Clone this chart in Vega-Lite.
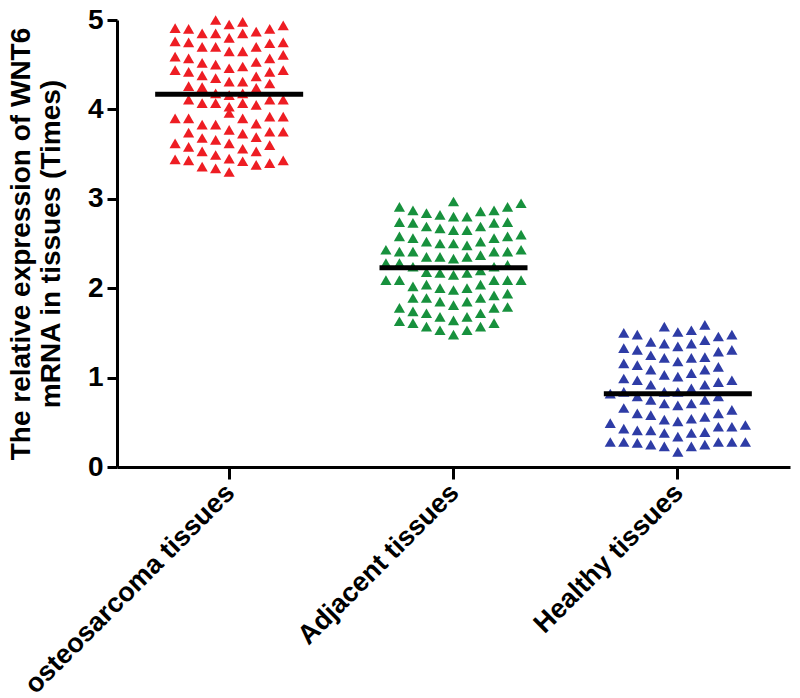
{
  "$schema": "https://vega.github.io/schema/vega-lite/v6.json",
  "width": 673,
  "height": 447,
  "autosize": {"type": "none"},
  "padding": {"left": 117, "top": 20, "right": 10, "bottom": 231},
  "config": {"view": {"stroke": null}, "font": "Liberation Sans"},
  "datasets": {
    "points": [
      {"group": "osteosarcoma tissues", "col": -4, "value": 4.91},
      {"group": "osteosarcoma tissues", "col": -4, "value": 4.76},
      {"group": "osteosarcoma tissues", "col": -4, "value": 4.59},
      {"group": "osteosarcoma tissues", "col": -4, "value": 4.44},
      {"group": "osteosarcoma tissues", "col": -4, "value": 3.90},
      {"group": "osteosarcoma tissues", "col": -4, "value": 3.62},
      {"group": "osteosarcoma tissues", "col": -4, "value": 3.44},
      {"group": "osteosarcoma tissues", "col": -3, "value": 4.90},
      {"group": "osteosarcoma tissues", "col": -3, "value": 4.75},
      {"group": "osteosarcoma tissues", "col": -3, "value": 4.57},
      {"group": "osteosarcoma tissues", "col": -3, "value": 4.42},
      {"group": "osteosarcoma tissues", "col": -3, "value": 4.26},
      {"group": "osteosarcoma tissues", "col": -3, "value": 4.11},
      {"group": "osteosarcoma tissues", "col": -3, "value": 3.90},
      {"group": "osteosarcoma tissues", "col": -3, "value": 3.74},
      {"group": "osteosarcoma tissues", "col": -3, "value": 3.58},
      {"group": "osteosarcoma tissues", "col": -3, "value": 3.43},
      {"group": "osteosarcoma tissues", "col": -2, "value": 4.85},
      {"group": "osteosarcoma tissues", "col": -2, "value": 4.70},
      {"group": "osteosarcoma tissues", "col": -2, "value": 4.52},
      {"group": "osteosarcoma tissues", "col": -2, "value": 4.38},
      {"group": "osteosarcoma tissues", "col": -2, "value": 4.25},
      {"group": "osteosarcoma tissues", "col": -2, "value": 4.07},
      {"group": "osteosarcoma tissues", "col": -2, "value": 3.83},
      {"group": "osteosarcoma tissues", "col": -2, "value": 3.68},
      {"group": "osteosarcoma tissues", "col": -2, "value": 3.53},
      {"group": "osteosarcoma tissues", "col": -2, "value": 3.36},
      {"group": "osteosarcoma tissues", "col": -1, "value": 5.00},
      {"group": "osteosarcoma tissues", "col": -1, "value": 4.85},
      {"group": "osteosarcoma tissues", "col": -1, "value": 4.70},
      {"group": "osteosarcoma tissues", "col": -1, "value": 4.50},
      {"group": "osteosarcoma tissues", "col": -1, "value": 4.35},
      {"group": "osteosarcoma tissues", "col": -1, "value": 4.18},
      {"group": "osteosarcoma tissues", "col": -1, "value": 4.07},
      {"group": "osteosarcoma tissues", "col": -1, "value": 3.83},
      {"group": "osteosarcoma tissues", "col": -1, "value": 3.66},
      {"group": "osteosarcoma tissues", "col": -1, "value": 3.49},
      {"group": "osteosarcoma tissues", "col": -1, "value": 3.34},
      {"group": "osteosarcoma tissues", "col": 0, "value": 4.95},
      {"group": "osteosarcoma tissues", "col": 0, "value": 4.80},
      {"group": "osteosarcoma tissues", "col": 0, "value": 4.65},
      {"group": "osteosarcoma tissues", "col": 0, "value": 4.46},
      {"group": "osteosarcoma tissues", "col": 0, "value": 4.31},
      {"group": "osteosarcoma tissues", "col": 0, "value": 4.16},
      {"group": "osteosarcoma tissues", "col": 0, "value": 4.03},
      {"group": "osteosarcoma tissues", "col": 0, "value": 3.96},
      {"group": "osteosarcoma tissues", "col": 0, "value": 3.77},
      {"group": "osteosarcoma tissues", "col": 0, "value": 3.62},
      {"group": "osteosarcoma tissues", "col": 0, "value": 3.45},
      {"group": "osteosarcoma tissues", "col": 0, "value": 3.30},
      {"group": "osteosarcoma tissues", "col": 1, "value": 4.98},
      {"group": "osteosarcoma tissues", "col": 1, "value": 4.85},
      {"group": "osteosarcoma tissues", "col": 1, "value": 4.65},
      {"group": "osteosarcoma tissues", "col": 1, "value": 4.48},
      {"group": "osteosarcoma tissues", "col": 1, "value": 4.31},
      {"group": "osteosarcoma tissues", "col": 1, "value": 4.18},
      {"group": "osteosarcoma tissues", "col": 1, "value": 4.07},
      {"group": "osteosarcoma tissues", "col": 1, "value": 3.90},
      {"group": "osteosarcoma tissues", "col": 1, "value": 3.73},
      {"group": "osteosarcoma tissues", "col": 1, "value": 3.56},
      {"group": "osteosarcoma tissues", "col": 1, "value": 3.42},
      {"group": "osteosarcoma tissues", "col": 2, "value": 4.87},
      {"group": "osteosarcoma tissues", "col": 2, "value": 4.70},
      {"group": "osteosarcoma tissues", "col": 2, "value": 4.53},
      {"group": "osteosarcoma tissues", "col": 2, "value": 4.37},
      {"group": "osteosarcoma tissues", "col": 2, "value": 4.24},
      {"group": "osteosarcoma tissues", "col": 2, "value": 4.05},
      {"group": "osteosarcoma tissues", "col": 2, "value": 3.84},
      {"group": "osteosarcoma tissues", "col": 2, "value": 3.69},
      {"group": "osteosarcoma tissues", "col": 2, "value": 3.53},
      {"group": "osteosarcoma tissues", "col": 2, "value": 3.38},
      {"group": "osteosarcoma tissues", "col": 3, "value": 4.90},
      {"group": "osteosarcoma tissues", "col": 3, "value": 4.74},
      {"group": "osteosarcoma tissues", "col": 3, "value": 4.57},
      {"group": "osteosarcoma tissues", "col": 3, "value": 4.42},
      {"group": "osteosarcoma tissues", "col": 3, "value": 4.29},
      {"group": "osteosarcoma tissues", "col": 3, "value": 4.11},
      {"group": "osteosarcoma tissues", "col": 3, "value": 3.92},
      {"group": "osteosarcoma tissues", "col": 3, "value": 3.75},
      {"group": "osteosarcoma tissues", "col": 3, "value": 3.60},
      {"group": "osteosarcoma tissues", "col": 3, "value": 3.40},
      {"group": "osteosarcoma tissues", "col": 4, "value": 4.94},
      {"group": "osteosarcoma tissues", "col": 4, "value": 4.75},
      {"group": "osteosarcoma tissues", "col": 4, "value": 4.61},
      {"group": "osteosarcoma tissues", "col": 4, "value": 4.44},
      {"group": "osteosarcoma tissues", "col": 4, "value": 4.11},
      {"group": "osteosarcoma tissues", "col": 4, "value": 3.92},
      {"group": "osteosarcoma tissues", "col": 4, "value": 3.75},
      {"group": "osteosarcoma tissues", "col": 4, "value": 3.43},

      {"group": "Adjacent tissues", "col": -5, "value": 2.43},
      {"group": "Adjacent tissues", "col": -5, "value": 2.28},
      {"group": "Adjacent tissues", "col": -5, "value": 2.09},
      {"group": "Adjacent tissues", "col": -4, "value": 2.91},
      {"group": "Adjacent tissues", "col": -4, "value": 2.74},
      {"group": "Adjacent tissues", "col": -4, "value": 2.58},
      {"group": "Adjacent tissues", "col": -4, "value": 2.41},
      {"group": "Adjacent tissues", "col": -4, "value": 2.28},
      {"group": "Adjacent tissues", "col": -4, "value": 2.09},
      {"group": "Adjacent tissues", "col": -4, "value": 1.78},
      {"group": "Adjacent tissues", "col": -4, "value": 1.63},
      {"group": "Adjacent tissues", "col": -3, "value": 2.87},
      {"group": "Adjacent tissues", "col": -3, "value": 2.73},
      {"group": "Adjacent tissues", "col": -3, "value": 2.56},
      {"group": "Adjacent tissues", "col": -3, "value": 2.41},
      {"group": "Adjacent tissues", "col": -3, "value": 2.24},
      {"group": "Adjacent tissues", "col": -3, "value": 2.02},
      {"group": "Adjacent tissues", "col": -3, "value": 1.89},
      {"group": "Adjacent tissues", "col": -3, "value": 1.74},
      {"group": "Adjacent tissues", "col": -3, "value": 1.61},
      {"group": "Adjacent tissues", "col": -2, "value": 2.84},
      {"group": "Adjacent tissues", "col": -2, "value": 2.69},
      {"group": "Adjacent tissues", "col": -2, "value": 2.52},
      {"group": "Adjacent tissues", "col": -2, "value": 2.35},
      {"group": "Adjacent tissues", "col": -2, "value": 2.18},
      {"group": "Adjacent tissues", "col": -2, "value": 2.04},
      {"group": "Adjacent tissues", "col": -2, "value": 1.89},
      {"group": "Adjacent tissues", "col": -2, "value": 1.72},
      {"group": "Adjacent tissues", "col": -2, "value": 1.57},
      {"group": "Adjacent tissues", "col": -1, "value": 2.82},
      {"group": "Adjacent tissues", "col": -1, "value": 2.67},
      {"group": "Adjacent tissues", "col": -1, "value": 2.50},
      {"group": "Adjacent tissues", "col": -1, "value": 2.35},
      {"group": "Adjacent tissues", "col": -1, "value": 2.17},
      {"group": "Adjacent tissues", "col": -1, "value": 2.00},
      {"group": "Adjacent tissues", "col": -1, "value": 1.85},
      {"group": "Adjacent tissues", "col": -1, "value": 1.68},
      {"group": "Adjacent tissues", "col": -1, "value": 1.53},
      {"group": "Adjacent tissues", "col": 0, "value": 2.97},
      {"group": "Adjacent tissues", "col": 0, "value": 2.80},
      {"group": "Adjacent tissues", "col": 0, "value": 2.65},
      {"group": "Adjacent tissues", "col": 0, "value": 2.50},
      {"group": "Adjacent tissues", "col": 0, "value": 2.33},
      {"group": "Adjacent tissues", "col": 0, "value": 2.15},
      {"group": "Adjacent tissues", "col": 0, "value": 1.98},
      {"group": "Adjacent tissues", "col": 0, "value": 1.81},
      {"group": "Adjacent tissues", "col": 0, "value": 1.64},
      {"group": "Adjacent tissues", "col": 0, "value": 1.48},
      {"group": "Adjacent tissues", "col": 1, "value": 2.80},
      {"group": "Adjacent tissues", "col": 1, "value": 2.65},
      {"group": "Adjacent tissues", "col": 1, "value": 2.48},
      {"group": "Adjacent tissues", "col": 1, "value": 2.35},
      {"group": "Adjacent tissues", "col": 1, "value": 2.17},
      {"group": "Adjacent tissues", "col": 1, "value": 2.00},
      {"group": "Adjacent tissues", "col": 1, "value": 1.85},
      {"group": "Adjacent tissues", "col": 1, "value": 1.68},
      {"group": "Adjacent tissues", "col": 1, "value": 1.53},
      {"group": "Adjacent tissues", "col": 2, "value": 2.86},
      {"group": "Adjacent tissues", "col": 2, "value": 2.69},
      {"group": "Adjacent tissues", "col": 2, "value": 2.52},
      {"group": "Adjacent tissues", "col": 2, "value": 2.37},
      {"group": "Adjacent tissues", "col": 2, "value": 2.20},
      {"group": "Adjacent tissues", "col": 2, "value": 2.04},
      {"group": "Adjacent tissues", "col": 2, "value": 1.89},
      {"group": "Adjacent tissues", "col": 2, "value": 1.72},
      {"group": "Adjacent tissues", "col": 2, "value": 1.57},
      {"group": "Adjacent tissues", "col": 3, "value": 2.87},
      {"group": "Adjacent tissues", "col": 3, "value": 2.73},
      {"group": "Adjacent tissues", "col": 3, "value": 2.56},
      {"group": "Adjacent tissues", "col": 3, "value": 2.41},
      {"group": "Adjacent tissues", "col": 3, "value": 2.24},
      {"group": "Adjacent tissues", "col": 3, "value": 2.09},
      {"group": "Adjacent tissues", "col": 3, "value": 1.92},
      {"group": "Adjacent tissues", "col": 3, "value": 1.78},
      {"group": "Adjacent tissues", "col": 3, "value": 1.61},
      {"group": "Adjacent tissues", "col": 4, "value": 2.91},
      {"group": "Adjacent tissues", "col": 4, "value": 2.74},
      {"group": "Adjacent tissues", "col": 4, "value": 2.58},
      {"group": "Adjacent tissues", "col": 4, "value": 2.41},
      {"group": "Adjacent tissues", "col": 4, "value": 2.26},
      {"group": "Adjacent tissues", "col": 4, "value": 2.09},
      {"group": "Adjacent tissues", "col": 4, "value": 1.94},
      {"group": "Adjacent tissues", "col": 4, "value": 1.79},
      {"group": "Adjacent tissues", "col": 5, "value": 2.95},
      {"group": "Adjacent tissues", "col": 5, "value": 2.60},
      {"group": "Adjacent tissues", "col": 5, "value": 2.43},
      {"group": "Adjacent tissues", "col": 5, "value": 2.09},

      {"group": "Healthy tissues", "col": -5, "value": 0.82},
      {"group": "Healthy tissues", "col": -5, "value": 0.49},
      {"group": "Healthy tissues", "col": -5, "value": 0.28},
      {"group": "Healthy tissues", "col": -4, "value": 1.50},
      {"group": "Healthy tissues", "col": -4, "value": 1.33},
      {"group": "Healthy tissues", "col": -4, "value": 1.16},
      {"group": "Healthy tissues", "col": -4, "value": 0.99},
      {"group": "Healthy tissues", "col": -4, "value": 0.84},
      {"group": "Healthy tissues", "col": -4, "value": 0.66},
      {"group": "Healthy tissues", "col": -4, "value": 0.43},
      {"group": "Healthy tissues", "col": -4, "value": 0.28},
      {"group": "Healthy tissues", "col": -3, "value": 1.48},
      {"group": "Healthy tissues", "col": -3, "value": 1.31},
      {"group": "Healthy tissues", "col": -3, "value": 1.14},
      {"group": "Healthy tissues", "col": -3, "value": 0.97},
      {"group": "Healthy tissues", "col": -3, "value": 0.79},
      {"group": "Healthy tissues", "col": -3, "value": 0.60},
      {"group": "Healthy tissues", "col": -3, "value": 0.41},
      {"group": "Healthy tissues", "col": -3, "value": 0.27},
      {"group": "Healthy tissues", "col": -2, "value": 1.40},
      {"group": "Healthy tissues", "col": -2, "value": 1.25},
      {"group": "Healthy tissues", "col": -2, "value": 1.09},
      {"group": "Healthy tissues", "col": -2, "value": 0.92},
      {"group": "Healthy tissues", "col": -2, "value": 0.75},
      {"group": "Healthy tissues", "col": -2, "value": 0.58},
      {"group": "Healthy tissues", "col": -2, "value": 0.41},
      {"group": "Healthy tissues", "col": -2, "value": 0.25},
      {"group": "Healthy tissues", "col": -1, "value": 1.57},
      {"group": "Healthy tissues", "col": -1, "value": 1.38},
      {"group": "Healthy tissues", "col": -1, "value": 1.22},
      {"group": "Healthy tissues", "col": -1, "value": 1.03},
      {"group": "Healthy tissues", "col": -1, "value": 0.84},
      {"group": "Healthy tissues", "col": -1, "value": 0.71},
      {"group": "Healthy tissues", "col": -1, "value": 0.53},
      {"group": "Healthy tissues", "col": -1, "value": 0.38},
      {"group": "Healthy tissues", "col": -1, "value": 0.23},
      {"group": "Healthy tissues", "col": 0, "value": 1.51},
      {"group": "Healthy tissues", "col": 0, "value": 1.35},
      {"group": "Healthy tissues", "col": 0, "value": 1.18},
      {"group": "Healthy tissues", "col": 0, "value": 1.01},
      {"group": "Healthy tissues", "col": 0, "value": 0.84},
      {"group": "Healthy tissues", "col": 0, "value": 0.69},
      {"group": "Healthy tissues", "col": 0, "value": 0.51},
      {"group": "Healthy tissues", "col": 0, "value": 0.34},
      {"group": "Healthy tissues", "col": 0, "value": 0.17},
      {"group": "Healthy tissues", "col": 1, "value": 1.53},
      {"group": "Healthy tissues", "col": 1, "value": 1.38},
      {"group": "Healthy tissues", "col": 1, "value": 1.22},
      {"group": "Healthy tissues", "col": 1, "value": 1.05},
      {"group": "Healthy tissues", "col": 1, "value": 0.88},
      {"group": "Healthy tissues", "col": 1, "value": 0.71},
      {"group": "Healthy tissues", "col": 1, "value": 0.54},
      {"group": "Healthy tissues", "col": 1, "value": 0.38},
      {"group": "Healthy tissues", "col": 1, "value": 0.23},
      {"group": "Healthy tissues", "col": 2, "value": 1.59},
      {"group": "Healthy tissues", "col": 2, "value": 1.42},
      {"group": "Healthy tissues", "col": 2, "value": 1.23},
      {"group": "Healthy tissues", "col": 2, "value": 1.09},
      {"group": "Healthy tissues", "col": 2, "value": 0.92},
      {"group": "Healthy tissues", "col": 2, "value": 0.75},
      {"group": "Healthy tissues", "col": 2, "value": 0.56},
      {"group": "Healthy tissues", "col": 2, "value": 0.39},
      {"group": "Healthy tissues", "col": 2, "value": 0.25},
      {"group": "Healthy tissues", "col": 3, "value": 1.46},
      {"group": "Healthy tissues", "col": 3, "value": 1.29},
      {"group": "Healthy tissues", "col": 3, "value": 1.12},
      {"group": "Healthy tissues", "col": 3, "value": 0.95},
      {"group": "Healthy tissues", "col": 3, "value": 0.79},
      {"group": "Healthy tissues", "col": 3, "value": 0.60},
      {"group": "Healthy tissues", "col": 3, "value": 0.45},
      {"group": "Healthy tissues", "col": 3, "value": 0.28},
      {"group": "Healthy tissues", "col": 4, "value": 1.48},
      {"group": "Healthy tissues", "col": 4, "value": 1.31},
      {"group": "Healthy tissues", "col": 4, "value": 0.97},
      {"group": "Healthy tissues", "col": 4, "value": 0.64},
      {"group": "Healthy tissues", "col": 4, "value": 0.45},
      {"group": "Healthy tissues", "col": 4, "value": 0.28},
      {"group": "Healthy tissues", "col": 5, "value": 0.47},
      {"group": "Healthy tissues", "col": 5, "value": 0.28}
    ],
    "means": [
      {"group": "osteosarcoma tissues", "value": 4.17},
      {"group": "Adjacent tissues", "value": 2.23},
      {"group": "Healthy tissues", "value": 0.82}
    ]
  },
  "layer": [
    {
      "data": {"name": "points"},
      "mark": {"type": "point", "shape": "triangle-up", "filled": true, "size": 125, "opacity": 1},
      "encoding": {
        "x": {
          "field": "group", "type": "nominal",
          "sort": ["osteosarcoma tissues", "Adjacent tissues", "Healthy tissues"],
          "scale": {"paddingInner": 0, "paddingOuter": 0},
          "axis": {
            "title": null, "labelAngle": -45, "labelFontSize": 27, "labelFontWeight": "bold",
            "labelColor": "black", "labelLimit": 0, "labelOffset": -8, "domainColor": "black", "domainWidth": 3,
            "tickColor": "black", "tickWidth": 3, "tickSize": 12, "labelPadding": 0, "grid": false
          }
        },
        "xOffset": {"field": "col", "type": "quantitative", "scale": {"domain": [-8.3, 8.3]}},
        "y": {
          "field": "value", "type": "quantitative",
          "scale": {"domain": [0, 5], "nice": false},
          "axis": {
            "values": [0, 1, 2, 3, 4, 5], "format": "d", "grid": false,
            "tickSize": 10, "tickWidth": 3, "tickColor": "black",
            "domainWidth": 3, "domainColor": "black",
            "labelFontSize": 28, "labelFontWeight": "bold", "labelColor": "black", "labelPadding": 4,
            "title": ["The relative expression of WNT6", "mRNA in tissues (Times)"],
            "titleFontSize": 28, "titleFontWeight": "bold", "titleColor": "black",
            "titleLineHeight": 30, "titlePadding": 22
          }
        },
        "color": {
          "field": "group", "type": "nominal",
          "scale": {"domain": ["osteosarcoma tissues", "Adjacent tissues", "Healthy tissues"], "range": ["#ee1d23", "#17913d", "#2e3ca6"]},
          "legend": null
        }
      }
    },
    {
      "data": {"name": "means"},
      "mark": {"type": "tick", "color": "black", "opacity": 1, "thickness": 5, "size": 148},
      "encoding": {
        "x": {"field": "group", "type": "nominal", "sort": ["osteosarcoma tissues", "Adjacent tissues", "Healthy tissues"]},
        "y": {"field": "value", "type": "quantitative"}
      }
    }
  ]
}
